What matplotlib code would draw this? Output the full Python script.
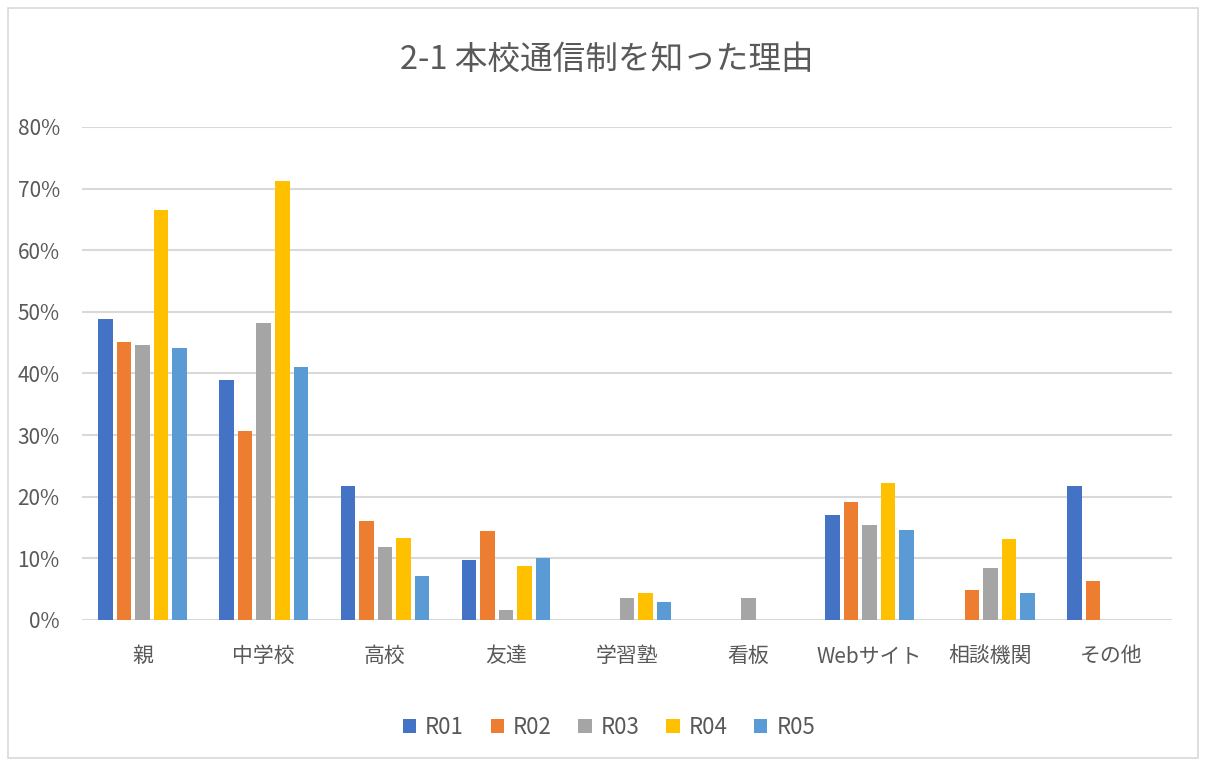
import numpy as np
import matplotlib.pyplot as plt
from matplotlib.patches import Rectangle
from matplotlib.ticker import PercentFormatter

plt.rcParams['font.family'] = ['Noto Sans CJK JP', 'DejaVu Sans']

# data (fractions)
categories = ['親', '中学校', '高校', '友達', '学習塾', '看板', 'Webサイト', '相談機関', 'その他']
series_names = ['R01', 'R02', 'R03', 'R04', 'R05']
r01 = [0.488, 0.390, 0.218, 0.097, 0.0, 0.0, 0.170, 0.0, 0.217]
r02 = [0.451, 0.306, 0.161, 0.145, 0.0, 0.0, 0.192, 0.048, 0.064]
r03 = [0.447, 0.482, 0.119, 0.016, 0.035, 0.035, 0.154, 0.085, 0.0]
r04 = [0.666, 0.712, 0.133, 0.088, 0.044, 0.0, 0.222, 0.132, 0.0]
r05 = [0.441, 0.411, 0.072, 0.101, 0.029, 0.0, 0.146, 0.044, 0.0]
colors = ['#4472C4', '#ED7D31', '#A5A5A5', '#FFC000', '#5B9BD5']

fig = plt.figure(figsize=(12.06, 7.64), dpi=100)
ax = fig.add_axes([0.068, 0.1885, 0.904, 0.6453])

# light frame around the whole chart, like the Excel chart area
fig.patches.append(Rectangle((8 / 1206, 6 / 764), 1190 / 1206, 750 / 764,
                             transform=fig.transFigure, fill=False,
                             edgecolor='#D9D9D9', linewidth=1.2))

x = np.arange(len(categories))
step = 0.153
width = 0.12
for i, (name, vals) in enumerate(zip(series_names, [r01, r02, r03, r04, r05])):
    ax.bar(x + (i - 2) * step, vals, width, color=colors[i], label=name, zorder=3)

ax.set_xlim(-0.5, len(categories) - 0.5)
ax.set_ylim(0, 0.8)
ax.set_yticks(np.arange(0, 0.81, 0.1))
ax.yaxis.set_major_formatter(PercentFormatter(1.0, decimals=0))
ax.set_xticks(x)
ax.set_xticklabels(categories)
ax.yaxis.grid(True, color='#D9D9D9', linewidth=1.5, zorder=0)
for s in ax.spines.values():
    s.set_visible(False)
ax.tick_params(axis='both', length=0, labelsize=15, colors='#595959')
ax.tick_params(axis='x', pad=18)
ax.tick_params(axis='y', pad=16)

fig.text(0.503, 0.922, '2-1 本校通信制を知った理由', ha='center', va='center',
         fontsize=23.5, color='#595959')

fig.legend(loc='center', bbox_to_anchor=(0.505, 0.048), ncol=5, frameon=False,
           fontsize=16, handlelength=0.6, handleheight=0.6, handletextpad=0.4,
           columnspacing=1.2, labelcolor='#595959')

fig.savefig('out.png', dpi=100)
